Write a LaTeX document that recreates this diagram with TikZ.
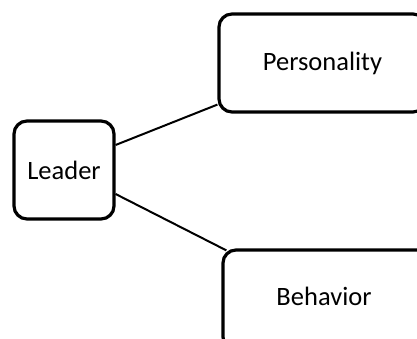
\documentclass[tikz,border=0pt]{standalone}
\usepackage{fontspec}
\setmainfont{Carlito}
\begin{document}
\begin{tikzpicture}[x=1pt,y=1pt,
  box/.style={draw=black, line width=3.2pt, rounded corners=13pt, fill=white,
    inner sep=0pt, font=\fontsize{26.5}{31}\selectfont},
  link/.style={draw=black, line width=2pt}]
\useasboundingbox (0,0) rectangle (417,338);
\clip (0,0) rectangle (417,338);
\node[box, minimum width=100pt, minimum height=98pt] (l) at (64,168) {Leader};
\node[box, minimum width=207pt, minimum height=98pt] (p) at (322.5,275) {Personality};
\node[box, minimum width=207pt, minimum height=100pt] (b) at (326.5,38) {};
\node[font=\fontsize{26.5}{31}\selectfont] (bt) at (324,42) {Behavior};
\draw[link] ([yshift=25pt]l.east) -- ([yshift=9pt]p.south west);
\draw[link] ([yshift=-24pt]l.east) -- ([xshift=5pt,yshift=-2pt]b.north west);
\end{tikzpicture}
\end{document}
